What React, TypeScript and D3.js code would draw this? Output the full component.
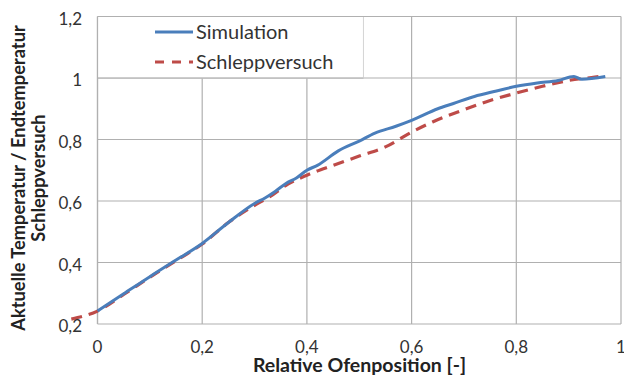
import * as d3 from 'd3';

// Relative Ofenposition [-] / Aktuelle Temperatur / Endtemperatur Schleppversuch
const simX = [0, 0.05, 0.1, 0.15, 0.2, 0.25, 0.3, 0.32, 0.34, 0.36, 0.38, 0.4, 0.42, 0.46, 0.5, 0.53, 0.57, 0.6, 0.65, 0.68, 0.72, 0.76, 0.8, 0.84, 0.88, 0.91, 0.925, 0.97];
const simY = [0.242, 0.298, 0.354, 0.408, 0.462, 0.53, 0.592, 0.61, 0.632, 0.657, 0.675, 0.7, 0.716, 0.763, 0.795, 0.821, 0.843, 0.862, 0.9, 0.917, 0.94, 0.957, 0.973, 0.984, 0.992, 1.005, 0.996, 1.005];

const expX = [-0.05, 0, 0.05, 0.1, 0.15, 0.2, 0.25, 0.3, 0.33, 0.36, 0.4, 0.45, 0.5, 0.55, 0.6, 0.64, 0.7, 0.75, 0.8, 0.85, 0.9, 0.95, 0.97];
const expY = [0.216, 0.242, 0.296, 0.352, 0.406, 0.46, 0.53, 0.586, 0.615, 0.651, 0.684, 0.716, 0.746, 0.776, 0.824, 0.857, 0.897, 0.927, 0.951, 0.973, 0.992, 1.003, 1.008];

const xTicks = [0, 0.2, 0.4, 0.6, 0.8, 1];
const yTicks = [0.2, 0.4, 0.6, 0.8, 1, 1.2];

const seriesNames = ['Simulation', 'Schleppversuch'];

const width = 624;
const height = 378;
const margin = { top: 16.5, right: 3, bottom: 54, left: 97.5 };

const blue = '#4a7ebb';
const red = '#be4b48';
const gridColor = '#b0b0b0';
const font = 'Lato, Carlito, "Open Sans", sans-serif';

const fmt = (v: number) => String(Math.round(v * 10) / 10).replace('.', ',');

export default function App() {
  const x = d3.scaleLinear().domain([0, 1]).range([margin.left, width - margin.right]);
  const y = d3.scaleLinear().domain([0.2, 1.2]).range([height - margin.bottom, margin.top]);

  const line = d3.line<[number, number]>()
    .x(d => x(d[0]))
    .y(d => y(d[1]))
    .curve(d3.curveMonotoneX);

  const simData = simX.map((v, i) => [v, simY[i]] as [number, number]);
  const expData = expX.map((v, i) => [v, expY[i]] as [number, number]);

  const legendRight = x(0.508);
  const legendBottom = y(1);

  return (
    <svg width={width} height={height} style={{ position: 'absolute', left: 0, top: 0 }}>
      <rect width={width} height={height} fill="#fff" />
      {/* grid */}
      {yTicks.map(t => (
        <line key={'gy' + t} x1={x(0)} x2={x(1)} y1={y(t)} y2={y(t)} stroke={gridColor} strokeWidth={1.2} />
      ))}
      {xTicks.map(t => (
        <line key={'gx' + t} x1={x(t)} x2={x(t)} y1={y(0.2)} y2={y(1.2)} stroke={gridColor} strokeWidth={1.2} />
      ))}

      {/* legend box */}
      <rect x={x(0)} y={y(1.2)} width={legendRight - x(0)} height={legendBottom - y(1.2)} fill="#fff" stroke="#d4d4d4" strokeWidth={1} />
      <line x1={x(0)} x2={x(0)} y1={y(1.2)} y2={y(0.2)} stroke={gridColor} strokeWidth={1.2} />
      <line x1={x(0)} x2={x(1)} y1={y(1.2)} y2={y(1.2)} stroke={gridColor} strokeWidth={1.2} />
      <line x1={x(0)} x2={legendRight} y1={legendBottom} y2={legendBottom} stroke={gridColor} strokeWidth={1.2} />

      <line x1={155} x2={193} y1={32} y2={32} stroke={blue} strokeWidth={3} />
      <text x={196} y={38.5} fontFamily={font} fontSize={20} fill="#333">{seriesNames[0]}</text>
      <line x1={155} x2={193} y1={62} y2={62} stroke={red} strokeWidth={3} strokeDasharray="9 8" />
      <text x={196} y={68.5} fontFamily={font} fontSize={20} fill="#333">{seriesNames[1]}</text>

      {/* series */}
      <path d={line(expData) || ''} fill="none" stroke={red} strokeWidth={3.2} strokeDasharray="11 7" />
      <path d={line(simData) || ''} fill="none" stroke={blue} strokeWidth={3} strokeLinejoin="round" />

      {/* tick labels */}
      {yTicks.map(t => (
        <text key={'ty' + t} x={82} y={y(t) + 1.5} textAnchor="end" dominantBaseline="central" fontFamily={font} fontSize={17} fill="#333">{fmt(t)}</text>
      ))}
      {xTicks.map(t => (
        <text key={'tx' + t} x={x(t)} y={346.5} textAnchor="middle" dominantBaseline="central" fontFamily={font} fontSize={17} fill="#333">{fmt(t)}</text>
      ))}

      {/* axis titles */}
      <text x={359.5} y={371.5} textAnchor="middle" fontFamily={font} fontSize={19.5} fontWeight="bold" fill="#222">Relative Ofenposition [-]</text>
      <g transform="translate(0,178) rotate(-90)">
        <text x={0} y={24.5} textAnchor="middle" fontFamily={font} fontSize={18.3} fontWeight="bold" fill="#222">Aktuelle Temperatur / Endtemperatur</text>
        <text x={0} y={44.5} textAnchor="middle" fontFamily={font} fontSize={18.3} fontWeight="bold" fill="#222">Schleppversuch</text>
      </g>
    </svg>
  );
}
